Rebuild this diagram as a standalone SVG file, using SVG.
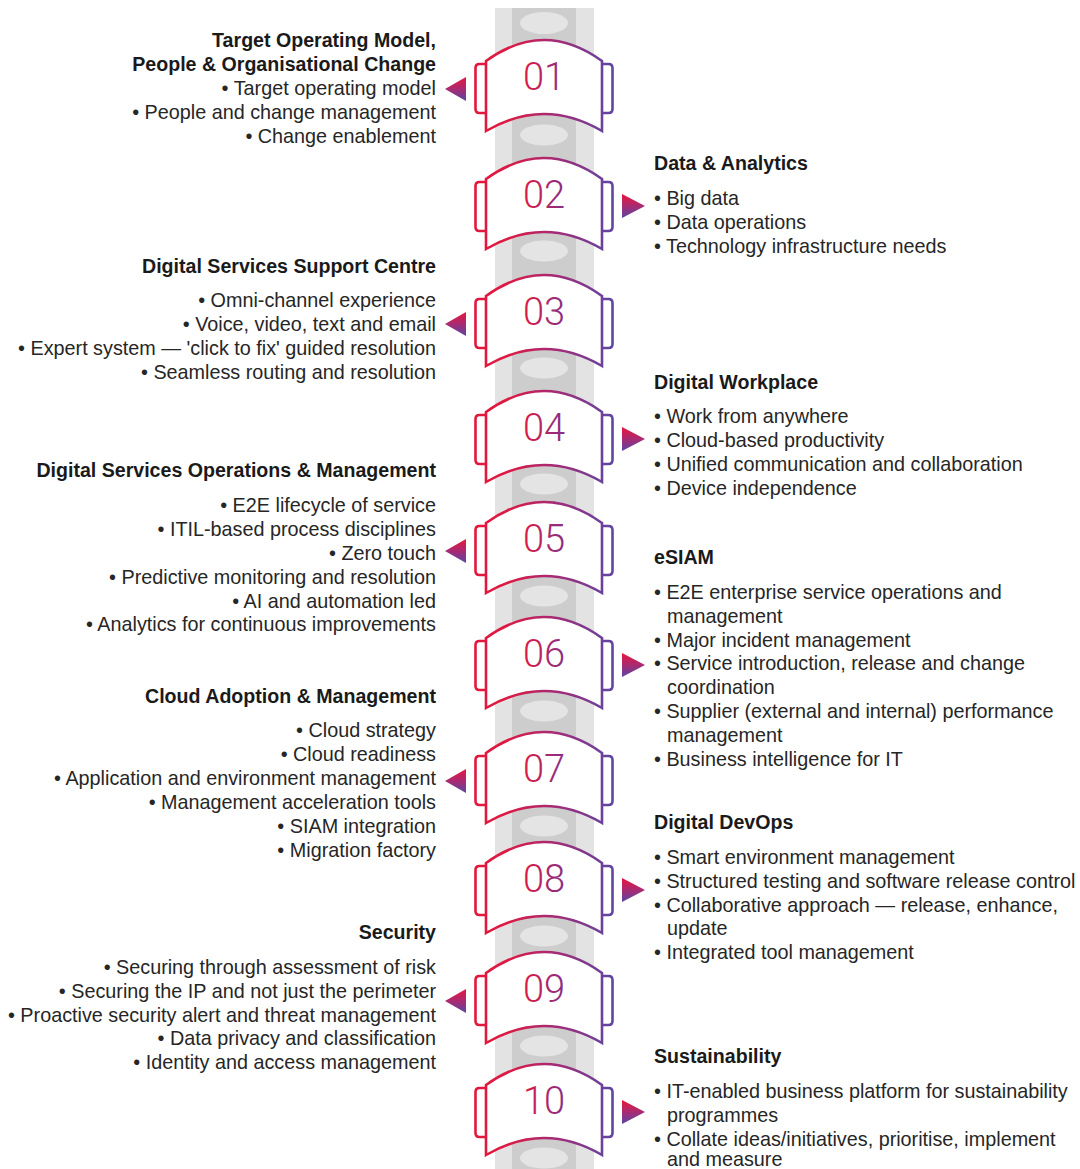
<svg xmlns="http://www.w3.org/2000/svg" xmlns:xlink="http://www.w3.org/1999/xlink" width="1080" height="1169" viewBox="0 0 1080 1169">
<defs>
  <linearGradient id="strokeGrad" gradientUnits="userSpaceOnUse" x1="475" y1="0" x2="613" y2="0">
    <stop offset="0" stop-color="#e3173b"/>
    <stop offset="0.25" stop-color="#dc1a45"/>
    <stop offset="0.6" stop-color="#a12c78"/>
    <stop offset="1" stop-color="#5f46a2"/>
  </linearGradient>
  <linearGradient id="numGrad" x1="0" y1="0" x2="1" y2="0">
    <stop offset="0" stop-color="#e01a42"/>
    <stop offset="1" stop-color="#843088"/>
  </linearGradient>
  <linearGradient id="arrowGrad" x1="0" y1="0" x2="0" y2="1">
    <stop offset="0" stop-color="#e8173a"/>
    <stop offset="0.45" stop-color="#b0286c"/>
    <stop offset="1" stop-color="#5a45a4"/>
  </linearGradient>
  <g id="badgeShape">
    <path class="tab" d="M486,-13 L479.5,-13 Q475.5,-13 475.5,-9 L475.5,32 Q475.5,36 479.5,36 L486,36"/>
    <path class="tab" d="M602,-13 L608.5,-13 Q612.5,-13 612.5,-9 L612.5,32 Q612.5,36 608.5,36 L602,36"/>
    <path class="body" d="M486,-16 Q544,-58 602,-16 L602,54 Q544,20 486,54 Z"/>
  </g>
  <polygon id="arrowL" points="445,12 466,0 466,24"/>
  <polygon id="arrowR" points="645,11 622,-1 622,23"/>
</defs>
<style>
  .tab { fill: #ffffff; stroke: url(#strokeGrad); stroke-width: 2.6; stroke-linejoin: round; }
  .body { fill: #ffffff; stroke: url(#strokeGrad); stroke-width: 2.6; stroke-linejoin: miter; }
  .num { font-family: "Roboto", "Liberation Sans", sans-serif; font-weight: 300; font-size: 38px; fill: url(#numGrad); text-anchor: middle; }
  .arrow { fill: url(#arrowGrad); }
  .h { font-family: "Liberation Sans", Arial, sans-serif; font-weight: bold; font-size: 19.6px; fill: #1a1a1a; }
  .t { font-family: "Liberation Sans", Arial, sans-serif; font-size: 19.8px; fill: #262626; }
  .l { text-anchor: end; }
  .outer { fill: #e3e3e3; }
  .inner { fill: #cdcdcd; }
  .vert { fill: #e4e4e4; }
</style>
<rect width="1080" height="1169" fill="#ffffff"/>

<g id="spine">
  <rect class="outer" x="495" y="8" width="99" height="1161"/>
  <rect class="inner" x="512" y="8" width="64" height="1161"/>
  <ellipse class="vert" cx="544" cy="23" rx="24" ry="11"/>
  <ellipse class="vert" cx="544" cy="135" rx="24" ry="10.5"/>
  <ellipse class="vert" cx="544" cy="251" rx="24" ry="10.5"/>
  <ellipse class="vert" cx="544" cy="368" rx="24" ry="10.5"/>
  <ellipse class="vert" cx="544" cy="484" rx="24" ry="10.5"/>
  <ellipse class="vert" cx="544" cy="596" rx="24" ry="10.5"/>
  <ellipse class="vert" cx="544" cy="711" rx="24" ry="10.5"/>
  <ellipse class="vert" cx="544" cy="826" rx="24" ry="10.5"/>
  <ellipse class="vert" cx="544" cy="936" rx="24" ry="10.5"/>
  <ellipse class="vert" cx="544" cy="1046" rx="24" ry="10.5"/>
  <ellipse class="vert" cx="544" cy="1158" rx="24" ry="10.5"/>
</g>

<g id="connectors"></g>

<g id="node-01">
  <g transform="translate(0,77)"><use xlink:href="#badgeShape"/><use xlink:href="#arrowL" class="arrow"/><text class="num" x="544" y="13">01</text></g>
  <text class="h l" x="436" y="47">Target Operating Model,</text>
  <text class="h l" x="436" y="71">People &amp; Organisational Change</text>
  <text class="t l" x="436" y="95">• Target operating model</text>
  <text class="t l" x="436" y="119">• People and change management</text>
  <text class="t l" x="436" y="143">• Change enablement</text>
</g>

<g id="node-02">
  <g transform="translate(0,195)"><use xlink:href="#badgeShape"/><use xlink:href="#arrowR" class="arrow"/><text class="num" x="544" y="13">02</text></g>
  <text class="h" x="654" y="170">Data &amp; Analytics</text>
  <text class="t" x="654" y="205">• Big data</text>
  <text class="t" x="654" y="229">• Data operations</text>
  <text class="t" x="654" y="253">• Technology infrastructure needs</text>
</g>

<g id="node-03">
  <g transform="translate(0,312)"><use xlink:href="#badgeShape"/><use xlink:href="#arrowL" class="arrow"/><text class="num" x="544" y="13">03</text></g>
  <text class="h l" x="436" y="273">Digital Services Support Centre</text>
  <text class="t l" x="436" y="307">• Omni-channel experience</text>
  <text class="t l" x="436" y="331">• Voice, video, text and email</text>
  <text class="t l" x="436" y="355">• Expert system — 'click to fix' guided resolution</text>
  <text class="t l" x="436" y="379">• Seamless routing and resolution</text>
</g>

<g id="node-04">
  <g transform="translate(0,428)"><use xlink:href="#badgeShape"/><use xlink:href="#arrowR" class="arrow"/><text class="num" x="544" y="13">04</text></g>
  <text class="h" x="654" y="389">Digital Workplace</text>
  <text class="t" x="654" y="423">• Work from anywhere</text>
  <text class="t" x="654" y="447">• Cloud-based productivity</text>
  <text class="t" x="654" y="471">• Unified communication and collaboration</text>
  <text class="t" x="654" y="495">• Device independence</text>
</g>

<g id="node-05">
  <g transform="translate(0,539)"><use xlink:href="#badgeShape"/><use xlink:href="#arrowL" class="arrow"/><text class="num" x="544" y="13">05</text></g>
  <text class="h l" x="436" y="477">Digital Services Operations &amp; Management</text>
  <text class="t l" x="436" y="512">• E2E lifecycle of service</text>
  <text class="t l" x="436" y="536">• ITIL-based process disciplines</text>
  <text class="t l" x="436" y="560">• Zero touch</text>
  <text class="t l" x="436" y="584">• Predictive monitoring and resolution</text>
  <text class="t l" x="436" y="608">• AI and automation led</text>
  <text class="t l" x="436" y="631">• Analytics for continuous improvements</text>
</g>

<g id="node-06">
  <g transform="translate(0,654)"><use xlink:href="#badgeShape"/><use xlink:href="#arrowR" class="arrow"/><text class="num" x="544" y="13">06</text></g>
  <text class="h" x="654" y="564">eSIAM</text>
  <text class="t" x="654" y="599">• E2E enterprise service operations and</text>
  <text class="t" x="667" y="623">management</text>
  <text class="t" x="654" y="647">• Major incident management</text>
  <text class="t" x="654" y="670">• Service introduction, release and change</text>
  <text class="t" x="667" y="694">coordination</text>
  <text class="t" x="654" y="718">• Supplier (external and internal) performance</text>
  <text class="t" x="667" y="742">management</text>
  <text class="t" x="654" y="766">• Business intelligence for IT</text>
</g>

<g id="node-07">
  <g transform="translate(0,769)"><use xlink:href="#badgeShape"/><use xlink:href="#arrowL" class="arrow"/><text class="num" x="544" y="13">07</text></g>
  <text class="h l" x="436" y="703">Cloud Adoption &amp; Management</text>
  <text class="t l" x="436" y="737">• Cloud strategy</text>
  <text class="t l" x="436" y="761">• Cloud readiness</text>
  <text class="t l" x="436" y="785">• Application and environment management</text>
  <text class="t l" x="436" y="809">• Management acceleration tools</text>
  <text class="t l" x="436" y="833">• SIAM integration</text>
  <text class="t l" x="436" y="857">• Migration factory</text>
</g>

<g id="node-08">
  <g transform="translate(0,879)"><use xlink:href="#badgeShape"/><use xlink:href="#arrowR" class="arrow"/><text class="num" x="544" y="13">08</text></g>
  <text class="h" x="654" y="829">Digital DevOps</text>
  <text class="t" x="654" y="864">• Smart environment management</text>
  <text class="t" x="654" y="888">• Structured testing and software release control</text>
  <text class="t" x="654" y="912">• Collaborative approach — release, enhance,</text>
  <text class="t" x="667" y="935">update</text>
  <text class="t" x="654" y="959">• Integrated tool management</text>
</g>

<g id="node-09">
  <g transform="translate(0,989)"><use xlink:href="#badgeShape"/><use xlink:href="#arrowL" class="arrow"/><text class="num" x="544" y="13">09</text></g>
  <text class="h l" x="436" y="939">Security</text>
  <text class="t l" x="436" y="974">• Securing through assessment of risk</text>
  <text class="t l" x="436" y="998">• Securing the IP and not just the perimeter</text>
  <text class="t l" x="436" y="1022">• Proactive security alert and threat management</text>
  <text class="t l" x="436" y="1045">• Data privacy and classification</text>
  <text class="t l" x="436" y="1069">• Identity and access management</text>
</g>

<g id="node-10">
  <g transform="translate(0,1101)"><use xlink:href="#badgeShape"/><use xlink:href="#arrowR" class="arrow"/><text class="num" x="544" y="13">10</text></g>
  <text class="h" x="654" y="1063">Sustainability</text>
  <text class="t" x="654" y="1098">• IT-enabled business platform for sustainability</text>
  <text class="t" x="667" y="1122">programmes</text>
  <text class="t" x="654" y="1146">• Collate ideas/initiatives, prioritise, implement</text>
  <text class="t" x="667" y="1166">and measure</text>
</g>
</svg>
